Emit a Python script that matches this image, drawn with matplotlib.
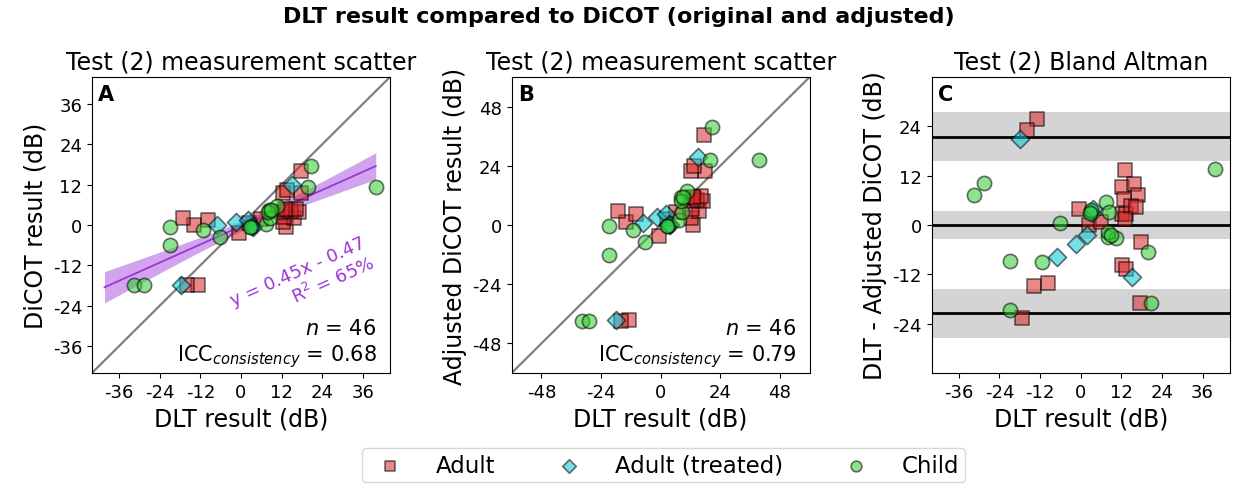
import numpy as np
import matplotlib.pyplot as plt

plt.rcParams['font.family'] = 'DejaVu Sans'
plt.rcParams['axes.unicode_minus'] = False

# DLT result vs DiCOT (original) and DiCOT (adjusted), in dB
adult_dlt = [-12.8, -15.8, -13.8, -9.8, -17.2, -0.5, 2.5, 6.0, 13.2, 12.3, 15.6,
             17.0, 12.8, 12.2, 13.5, 17.8, 12.3, 13.5, 17.6, 14.8, 16.2, 13.0]
adult_dicot = [-17.8, -17.9, 0.0, 1.5, 2.0, -2.5, 0.7, 1.9, -0.5, 0.9, 2.0,
               3.9, 2.5, 3.9, 4.4, 9.4, 9.4, 10.4, 16.0, 4.2, 4.8, 4.7]
adult_adj = [-38.6, -38.8, 1.1, 4.3, 5.5, -4.5, 2.5, 5.2, -0.1, 3.0, 5.6,
             9.7, 6.5, 9.6, 10.9, 22.0, 22.0, 24.1, 36.6, 10.3, 11.8, 11.5]

treated_dlt = [-17.8, -7.0, -1.5, 2.0, 3.2, 15.0, 3.6]
treated_dicot = [-17.8, -0.1, 1.0, 1.5, -0.3, 12.0, -0.6]
treated_adj = [-38.6, 0.9, 3.2, 4.4, 0.4, 27.7, -0.2]

child_dlt = [-31.5, -28.7, -21.0, -21.0, -11.3, -6.2, 3.0, 7.5, 8.5, 8.2, 10.5,
             19.8, 20.8, 39.8, 8.1, 2.6, 8.8]
child_dicot = [-17.9, -17.9, -6.0, -0.6, -1.5, -3.5, -0.7, 0.4, 2.0, 4.6, 5.6,
               11.4, 17.4, 11.4, 3.9, -0.6, 4.6]
child_adj = [-38.8, -38.8, -12.3, -0.4, -2.2, -6.8, -0.6, 1.9, 5.4, 11.2, 13.6,
             26.4, 39.8, 26.3, 9.7, -0.4, 11.3]

# values shown in the annotations
reg_slope, reg_icept, reg_r2 = 0.45, -0.47, 65
icc_orig, icc_adj, n_obs = 0.68, 0.79, 46
# Bland-Altman: bias, limits of agreement and their CI half widths
ba_bias, ba_loa, ba_bias_ci, ba_loa_ci = 0.0, 21.5, 3.5, 6.0

groups = [
    ("Adult", "s", "#d62728", 100, adult_dlt, adult_dicot, adult_adj),
    ("Adult (treated)", "D", "#00c8d2", 85, treated_dlt, treated_dicot, treated_adj),
    ("Child", "o", "#32cd32", 105, child_dlt, child_dicot, child_adj),
]

fig = plt.figure(figsize=(12.38, 4.89), dpi=100)
axA = fig.add_axes([0.0743, 0.2352, 0.2407, 0.6053])
axB = fig.add_axes([0.4133, 0.2352, 0.2407, 0.6053])
axC = fig.add_axes([0.7526, 0.2352, 0.2407, 0.6053])

fig.suptitle("DLT result compared to DiCOT (original and adjusted)",
             fontsize=16, fontweight='bold', y=0.985)

lim_a, lim_b = 44, 60
pur = '#9a35d8'

# ---- A: original scatter
axA.plot([-lim_a, lim_a], [-lim_a, lim_a], color='gray', lw=1.6, zorder=1)
x_all = np.concatenate([g[4] for g in groups])
y_all = np.concatenate([g[5] for g in groups])
p = np.polyfit(x_all, y_all, 1)
xx = np.linspace(-40.3, 39.8, 100)
res = y_all - np.polyval(p, x_all)
s = np.sqrt(np.sum(res ** 2) / (len(x_all) - 2))
se = s * np.sqrt(1 / len(x_all) + (xx - x_all.mean()) ** 2 / np.sum((x_all - x_all.mean()) ** 2))
yy = np.polyval(p, xx)
axA.fill_between(xx, yy - 2.015 * se, yy + 2.015 * se, color=pur, alpha=0.45, lw=0, zorder=2)
axA.plot(xx, yy, color=pur, lw=1.3, zorder=3)

handles = []
for name, mk, col, sz, dlt, orig, adj in groups:
    kw = dict(marker=mk, s=sz, c=col, edgecolors='k', linewidths=1.2, alpha=0.55, zorder=4)
    h = axA.scatter(dlt, orig, label=name, **kw)
    axB.scatter(dlt, adj, **kw)
    diff = np.array(dlt) - np.array(adj)
    axC.scatter(dlt, diff, **kw)
    handles.append(h)

axA.text(40.3, -13.6, "y = %.2fx - %.2f\nR$^2$ = %d%%" % (reg_slope, -reg_icept, reg_r2),
         color=pur, fontsize=13, rotation=24, rotation_mode='anchor',
         ha='right', va='bottom', multialignment='right')
axA.text(0.955, 0.015, "$n$ = %d\nICC$_{consistency}$ = %.2f" % (n_obs, icc_orig),
         transform=axA.transAxes, ha='right', va='bottom', fontsize=15,
         multialignment='right')
axA.set_xlim(-lim_a, lim_a)
axA.set_ylim(-lim_a, lim_a)
axA.set_xticks(np.arange(-36, 37, 12))
axA.set_yticks(np.arange(-36, 37, 12))
axA.set_title("Test (2) measurement scatter", fontsize=17)
axA.set_xlabel("DLT result (dB)", fontsize=17)
axA.set_ylabel("DiCOT result (dB)", fontsize=17)

# ---- B: adjusted scatter
axB.plot([-lim_b, lim_b], [-lim_b, lim_b], color='gray', lw=1.6, zorder=1)
axB.text(0.955, 0.015, "$n$ = %d\nICC$_{consistency}$ = %.2f" % (n_obs, icc_adj),
         transform=axB.transAxes, ha='right', va='bottom', fontsize=15,
         multialignment='right')
axB.set_xlim(-lim_b, lim_b)
axB.set_ylim(-lim_b, lim_b)
axB.set_xticks(np.arange(-48, 49, 24))
axB.set_yticks(np.arange(-48, 49, 24))
axB.set_title("Test (2) measurement scatter", fontsize=17)
axB.set_xlabel("DLT result (dB)", fontsize=17)
axB.set_ylabel("Adjusted DiCOT result (dB)", fontsize=17)

# ---- C: Bland-Altman
for c, w in [(ba_bias, ba_bias_ci), (ba_bias + ba_loa, ba_loa_ci), (ba_bias - ba_loa, ba_loa_ci)]:
    axC.axhspan(c - w, c + w, color='0.83', lw=0, zorder=1)
    axC.axhline(c, color='k', lw=2, zorder=2)
axC.set_xlim(-lim_a, lim_a)
axC.set_ylim(-36, 36)
axC.set_xticks(np.arange(-36, 37, 12))
axC.set_yticks(np.arange(-24, 25, 12))
axC.set_title("Test (2) Bland Altman", fontsize=17)
axC.set_xlabel("DLT result (dB)", fontsize=17)
axC.set_ylabel("DLT - Adjusted DiCOT (dB)", fontsize=17)

for ax, letter in [(axA, 'A'), (axB, 'B'), (axC, 'C')]:
    ax.text(0.02, 0.975, letter, transform=ax.transAxes, ha='left', va='top',
            fontsize=15, fontweight='bold')
    ax.tick_params(labelsize=13)

fig.legend(handles=handles, loc='lower center', bbox_to_anchor=(0.536, -0.012),
           ncol=3, fontsize=16.5, columnspacing=2.2, handletextpad=1.0,
           markerscale=0.75, borderpad=0.25)

fig.savefig("out.png", dpi=100)
